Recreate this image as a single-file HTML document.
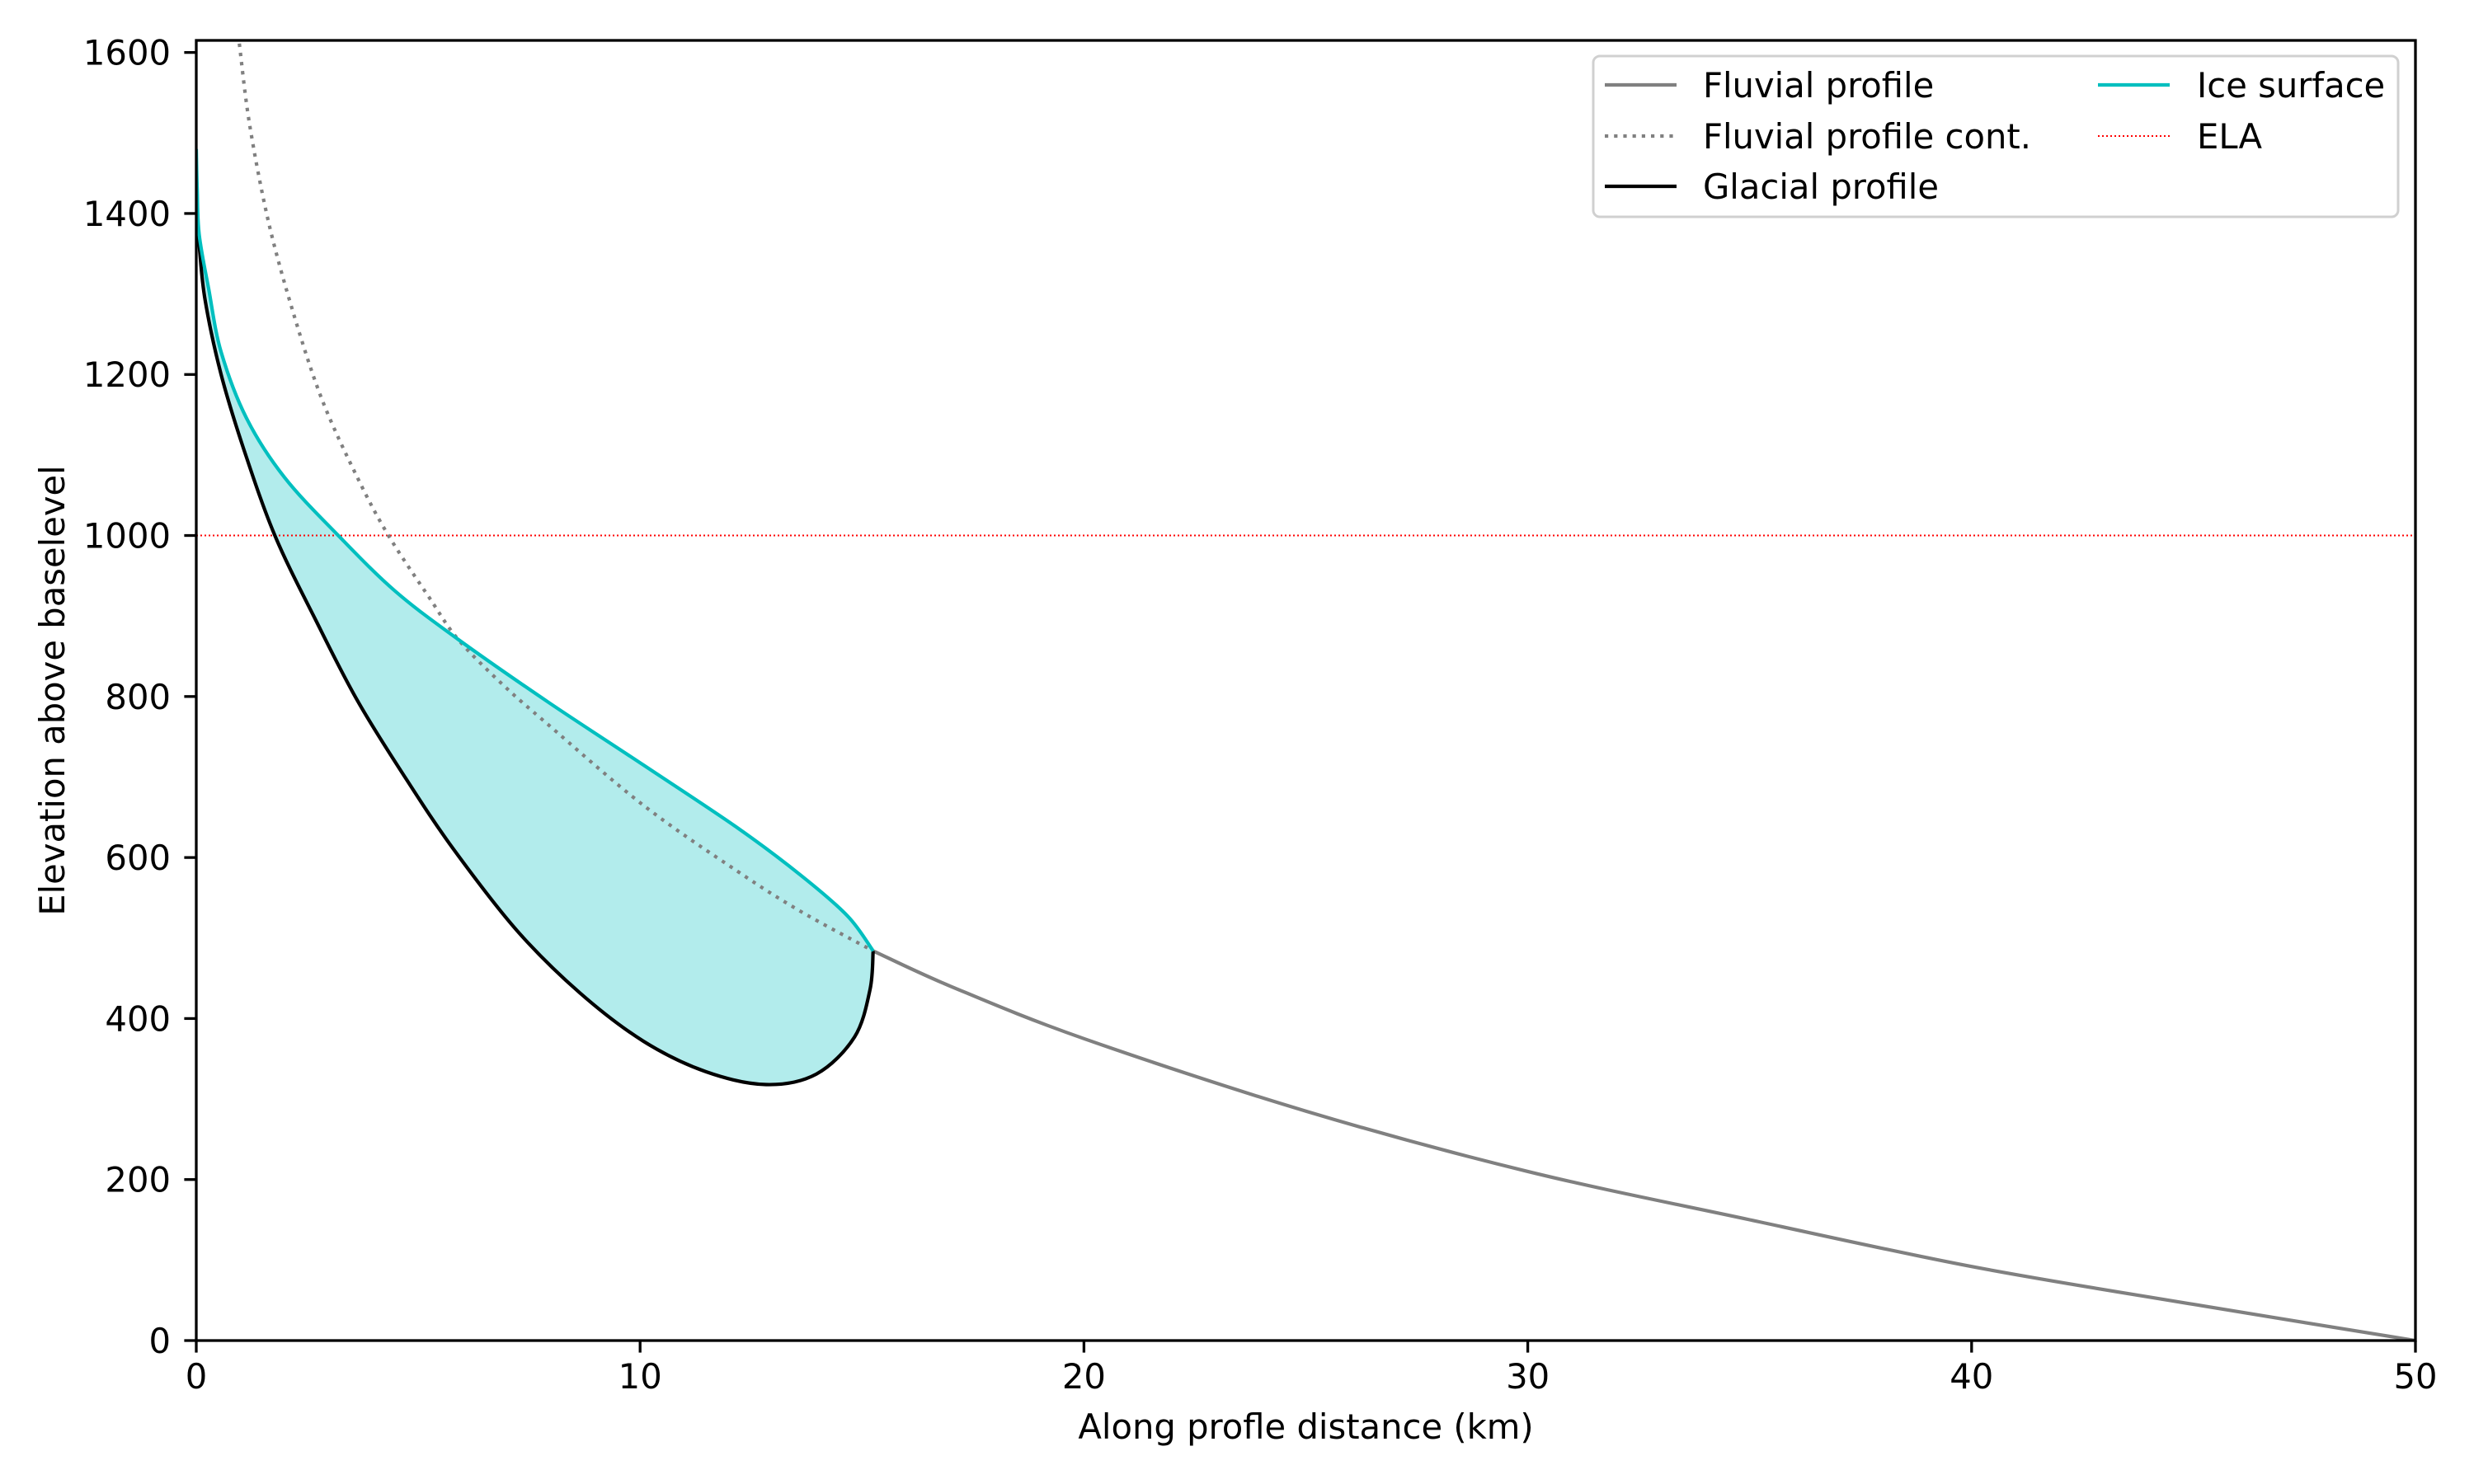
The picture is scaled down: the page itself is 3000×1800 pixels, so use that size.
<!DOCTYPE html>
<html><head><meta charset="utf-8"><style>
html,body{margin:0;padding:0;background:#fff}
svg{display:block;font-family:"DejaVu Sans","Liberation Sans",sans-serif}
</style></head><body>
<svg id="chart" width="3000" height="1800" viewBox="0 0 3000 1800">
<rect width="3000" height="1800" fill="#fff"/>
<g id="plot"></g>
</svg>
<script>
const xTicks=[0,10,20,30,40,50];
const yTicks=[0,200,400,600,800,1000,1200,1400,1600];
const fluvialX=[15.25,17,20,25,30,35,40,45,50];
const fluvialY=[484,440,375,285,210,150,92,45,0];
const contX=[0.97,1.2,1.63,2.2,2.84,3.63,4.33,5.26,5.9,6.9,7.93,10.07,12.19,13.62,15.25];
const contY=[1611,1511,1389,1274,1168,1072,1000,922,871,815,765,665,583,533,484];
const glacX=[0,0.065,0.2,0.56,1.06,1.77,2.7,3.63,4.7,5.8,7.23,8.64,10.07,11.48,12.84,13.97,14.83,15.18,15.25];
const glacY=[1400,1361,1292,1200,1109,1000,894,795,700,610,509,432,372,334,318,331,377,436,484];
const iceX=[0,0.02,0.065,0.28,0.56,1.13,1.99,3.2,4.48,5.9,7.93,10.07,12.19,13.62,14.68,15.25];
const iceY=[1480,1430,1374,1306,1228,1146,1072,1000,931,871,793,715,637,578,527,484];
const elaValue=[1000];

const L=238,R=2929,T=49,B=1626,XMAX=50,YMAX=1615;
const sx=v=>L+(R-L)*v/XMAX;
const sy=v=>B-(B-T)*v/YMAX;
const NS='http://www.w3.org/2000/svg';
const g=document.getElementById('plot');
function mk(tag,attrs,parent){const e=document.createElementNS(NS,tag);for(const k in attrs)e.setAttribute(k,attrs[k]);(parent||g).appendChild(e);return e;}
function smooth(xs,ys){
  const p=xs.map((x,i)=>[sx(x),sy(ys[i])]);
  let d='';
  for(let i=0;i<p.length-1;i++){
    const p0=p[i-1]||p[i],p1=p[i],p2=p[i+1],p3=p[i+2]||p2;
    const c1=[p1[0]+(p2[0]-p0[0])/6,p1[1]+(p2[1]-p0[1])/6];
    const c2=[p2[0]-(p3[0]-p1[0])/6,p2[1]-(p3[1]-p1[1])/6];
    d+=' C'+c1.map(v=>v.toFixed(1)).join(',')+' '+c2.map(v=>v.toFixed(1)).join(',')+' '+p2.map(v=>v.toFixed(1)).join(',');
  }
  return {start:'M'+p[0][0].toFixed(1)+','+p[0][1].toFixed(1),body:d};
}
function smoothPath(xs,ys){const s=smooth(xs,ys);return s.start+s.body;}

const defs=mk('defs',{});
const cp=mk('clipPath',{id:'clip'},defs);
mk('rect',{x:L,y:T,width:R-L,height:B-T},cp);
const data=mk('g',{'clip-path':'url(#clip)'});

const iceS=smooth(iceX,iceY);
const rgx=glacX.slice().reverse(), rgy=glacY.slice().reverse();
const bedS=smooth(rgx,rgy);
let f=mk('path',{d:iceS.start+iceS.body+' L'+bedS.start.slice(1)+bedS.body+' Z',fill:'#b2ecec',stroke:'none'},data);



let ela=mk('line',{x1:L,x2:R,y1:sy(elaValue[0]),y2:sy(elaValue[0]),stroke:'#ff0000','stroke-width':2,'stroke-dasharray':'2,3'},data);



let fl=mk('path',{d:smoothPath(fluvialX,fluvialY),fill:'none',stroke:'#808080','stroke-width':4.2},data);



let ct=mk('path',{d:smoothPath(contX,contY),fill:'none',stroke:'#808080','stroke-width':4.2,'stroke-dasharray':'4.2,7'},data);



let gl=mk('path',{d:smoothPath(glacX,glacY),fill:'none',stroke:'#000','stroke-width':4.2,'stroke-linejoin':'round'},data);



let ic=mk('path',{d:smoothPath(iceX,iceY),fill:'none',stroke:'#00bfbf','stroke-width':4.2,'stroke-linejoin':'round'},data);



let fr=mk('rect',{x:L,y:T,width:R-L,height:B-T,fill:'none',stroke:'#000','stroke-width':3.3});



xTicks.forEach(v=>{
  let t=mk('line',{x1:sx(v),x2:sx(v),y1:B,y2:B+14.6,stroke:'#000','stroke-width':3.3});
  
  
  let tx=mk('text',{x:sx(v),y:1684,'font-size':41.7,'text-anchor':'middle',fill:'#000'});
  tx.textContent=v;
  
  
});
yTicks.forEach(v=>{
  let t=mk('line',{x1:L-14.6,x2:L,y1:sy(v),y2:sy(v),stroke:'#000','stroke-width':3.3});
  
  
  let tx=mk('text',{x:207,y:sy(v)+15,'font-size':41.7,'text-anchor':'end',fill:'#000'});
  tx.textContent=v;
  
  
});

let xl=mk('text',{x:(L+R)/2,y:1745,'font-size':41.7,'text-anchor':'middle'});
xl.textContent='Along profle distance (km)';


let yl=mk('text',{x:0,y:0,'font-size':41.7,'text-anchor':'middle',transform:'translate(78,'+((T+B)/2)+') rotate(-90)'});
yl.textContent='Elevation above baselevel';



const lg=mk('g',{});


mk('rect',{x:1932,y:68,width:976,height:195,rx:8,fill:'#fff','fill-opacity':0.8,stroke:'#d0d0d0','stroke-width':3},lg);
const entries=[
 ['Fluvial profile','#808080',4.2,null,1946,2065,103],
 ['Fluvial profile cont.','#808080',4.2,'4.2,7',1946,2065,165],
 ['Glacial profile','#000',4.2,null,1946,2065,226],
 ['Ice surface','#00bfbf',4.2,null,2544,2664,103],
 ['ELA','#ff0000',2,'2,3',2544,2664,165]];
entries.forEach(e=>{
  const eg=mk('g',{},lg);
  
  
  const a={x1:e[4],x2:e[4]+87,y1:e[6],y2:e[6],stroke:e[1],'stroke-width':e[2]};
  if(e[3])a['stroke-dasharray']=e[3];
  mk('line',a,eg);
  const t=mk('text',{x:e[5],y:e[6]+15,'font-size':41.7},eg);
  t.textContent=e[0];
});
</script>
</body></html>
